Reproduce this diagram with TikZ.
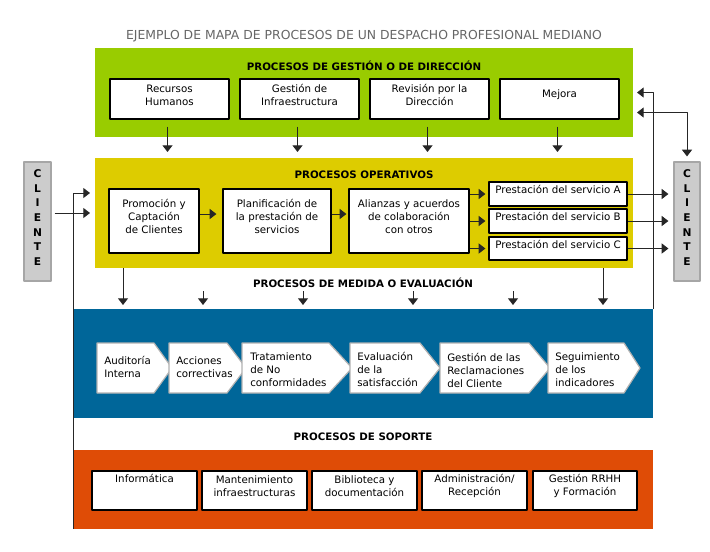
\documentclass[tikz,border=0pt]{standalone}
\usepackage{fontspec}
\setmainfont{DejaVu Sans}
\usepackage{tikz}
\usetikzlibrary{arrows.meta,calc}
\usetikzlibrary{positioning,fit}

\definecolor{gestverde}{HTML}{99CC00}
\definecolor{operamar}{HTML}{DDCC00}
\definecolor{medazul}{HTML}{006699}
\definecolor{sopnaranja}{HTML}{DF4C06}
\definecolor{titgris}{HTML}{666666}
\definecolor{cligris}{HTML}{CCCCCC}

\begin{document}
\begin{tikzpicture}[x=0.75pt,y=-0.75pt,>={Triangle[length=5pt,width=7.5pt]},line join=round,
  every node/.style={font=\fontsize{7.7}{9.75}\selectfont},
  bloque/.style={inner sep=0,outer sep=0,fit={#1}},
  caja/.style={draw=black,line width=0.9pt,fill=white,inner sep=0,align=center},
  titulo/.style={font=\fontsize{7.7}{9.75}\selectfont\bfseries},
  flecha/.style={->,line width=0.75pt,draw=black!85},
  chev/.style={fill=white,draw=gray!60,line width=0.9pt},
  chevtxt/.style={anchor=west,align=left,inner sep=0},
  cliente/.style={fill=cligris,draw=gray!70,line width=0.9pt,inner sep=0,align=center,font=\fontsize{8}{10.9}\selectfont\bfseries}]
\useasboundingbox (0,0) rectangle (710,551);
\node[font=\fontsize{9.3}{11}\selectfont,text=titgris] (tit) at (364,36) {EJEMPLO DE MAPA DE PROCESOS DE UN DESPACHO PROFESIONAL MEDIANO};
% procesos de gestion
\node[bloque={(95,48)(633,137)},fill=gestverde] (gest) {};
\node[titulo] (tGest) at ($(gest.north)+(0,18)$) {PROCESOS DE GESTIÓN O DE DIRECCIÓN};
\node[caja,fit={(110,79)(229,119)}] (rh) {Recursos\\Humanos};
\node[caja,fit={(240,79)(359,119)}] (gi) {Gestión de\\Infraestructura};
\node[caja,fit={(370,79)(489,119)}] (rd) {Revisión por la\\Dirección};
\node[caja,fit={(500,79)(619,119)}] (mej) {Mejora};
% procesos operativos
\node[bloque={(95,158)(633,268)},fill=operamar] (oper) {};
\node[titulo] (tOper) at ($(oper.north)+(0,17)$) {PROCESOS OPERATIVOS};
\node[caja,fit={(109,189)(199,253)}] (prom) {Promoción y\\Captación\\de Clientes};
\node[caja,fit={(223,189)(331,253)}] (plan) {Planificación de\\la prestación de\\servicios};
\node[caja,fit={(349,189)(469,253)}] (ali) {Alianzas y acuerdos\\de colaboración\\con otros};
\node[caja,fit={(489,182)(627,206)}] (pA) {Prestación del servicio A};
\node[caja,fit={(489,209)(627,233)}] (pB) {Prestación del servicio B};
\node[caja,fit={(489,237)(627,260)}] (pC) {Prestación del servicio C};
% clientes
\node[cliente,fit={(24,162)(51,281)}] (cliI) {C\\L\\I\\E\\N\\T\\E};
\node[cliente,fit={(674,162)(700,281)}] (cliD) {C\\L\\I\\E\\N\\T\\E};
% procesos de medida
\node[bloque={(73,309)(653,418)},fill=medazul] (med) {};
\node[titulo] (tMed) at ($(med.north)+(0,-26)$) {PROCESOS DE MEDIDA O EVALUACIÓN};
\foreach \l/\c/\t in {97/154/172,169/227/246,242/329/352,350/420/440,440/529/550,548/624/640}
  \draw[chev] (\l,343) -- (\c,343) -- (\t,368) -- (\c,393) -- (\l,393) -- cycle;
\node[chevtxt] (ch1) at (104,367) {Auditoría\\Interna};
\node[chevtxt] (ch2) at (176,367) {Acciones\\correctivas};
\node[chevtxt] (ch3) at (250,370) {Tratamiento\\de No\\conformidades};
\node[chevtxt] (ch4) at (357,369) {Evaluación\\de la\\satisfacción};
\node[chevtxt] (ch5) at (447,370) {Gestión de las\\Reclamaciones\\del Cliente};
\node[chevtxt] (ch6) at (555,370) {Seguimiento\\de los\\indicadores};
% procesos de soporte
\node[bloque={(73,450)(653,529)},fill=sopnaranja] (sop) {};
\node[titulo] (tSop) at ($(sop.north)+(0,-13)$) {PROCESOS DE SOPORTE};
\node[caja,fit={(92,471)(197,510)}] (inf) {Informática\\\phantom{Ag}};
\node[caja,fit={(202,471)(307,510)}] (man) {Mantenimiento\\infraestructuras};
\node[caja,fit={(312,471)(417,510)}] (bib) {Biblioteca y\\documentación};
\node[caja,fit={(422,471)(527,510)}] (adm) {Administración/\\Recepción};
\node[caja,fit={(533,471)(637,510)}] (rrhh) {Gestión RRHH\\y Formación};
% flechas
\foreach \b in {rh,gi,rd,mej}
  \draw[flecha] ($(\b.south)+(-2,7)$) -- ($(\b.south |- oper.north)+(-2,-6)$);
\draw[flecha] ($(cliI.east |- oper.west)+(3,0)$) -- ($(oper.west)+(-5,0)$);
\draw[flecha] (sop.south west) |- ($(oper.west)+(-5,-20)$);
\draw[flecha] ($(prom.east)+(0,-7)$) -- ($(plan.west)+(-6,-7)$);
\draw[flecha] ($(plan.east)+(0,-7)$) -- ($(ali.west)+(-2,-7)$);
\foreach \p in {pA,pB,pC} {
  \draw[flecha] (ali.east |- \p.west) -- ($(\p.west)+(-3,0)$);
  \draw[flecha] (\p.east) -- ($(cliD.west |- \p.east)+(-5,0)$);
}
\draw[flecha] (med.north east) |- ($(gest.east)+(4,0)$);
\draw[flecha,<->] ($(gest.east)+(4,20)$) -| ($(cliD.north)+(0,-5)$);
\foreach \i/\x in {1/123,2/203,3/303,4/413,5/513,6/603}
  \coordinate (ev\i) at (\x,291);
\draw[flecha] (oper.south -| ev1) -- ($(med.north -| ev1)+(0,-4)$);
\draw[flecha] (oper.south -| ev6) -- ($(med.north -| ev6)+(0,-4)$);
\foreach \i in {2,...,5}
  \draw[flecha] (ev\i) -- ($(med.north -| ev\i)+(0,-4)$);
\end{tikzpicture}
\end{document}
